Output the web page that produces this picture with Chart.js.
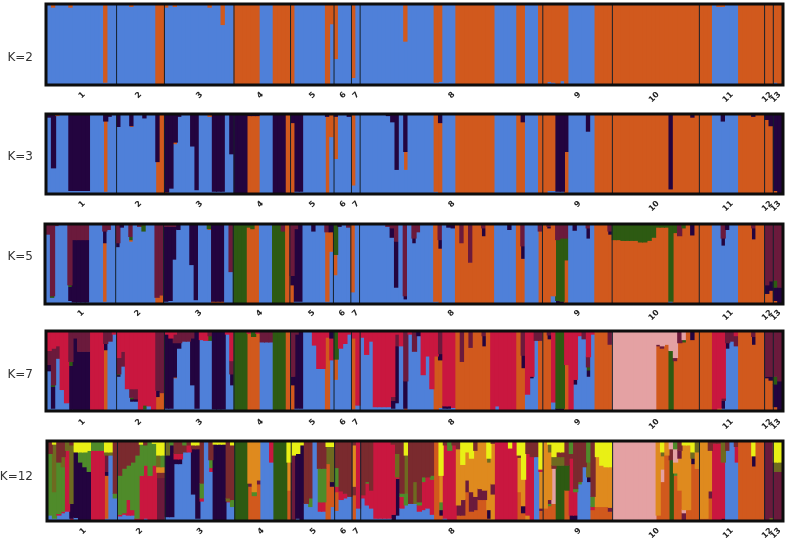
<!DOCTYPE html>
<html>
<head>
<meta charset="utf-8">
<title>STRUCTURE plots</title>
<script src="https://cdn.jsdelivr.net/npm/chart.js@4/dist/chart.umd.min.js"></script>
<style>
  html, body { margin: 0; padding: 0; background: #fff; }
  canvas { position: absolute; left: 0; }
</style>
</head>
<body>
<script>
// Cluster colours
const B = '#4f80d9', O = '#d1591d', D = '#23043f', M = '#6b1a3c', G = '#2d5a12', R = '#c9173f';
const P = '#e4a1a3', Y = '#e9f015', L = '#4f8b2a', A = '#df8a1e', W = '#7a2a2e', E = '#6e6a20';

// Populations: label, column where it starts, column where the label sits
const popLabels = ['1', '2', '3', '4', '5', '6', '7', '8', '9', '10', '11', '12', '13'];
const popStarts = [0, 16, 27, 43, 56, 66, 70, 72, 114, 130, 150, 165, 167];
const popLabelCols = [8, 21, 35, 49, 61, 68, 71, 93, 122, 140, 157, 166, 168];

// Each run: [number of individuals, colour, upper share ends at %, colour, ends at %, ...] from the top down
const k2Runs = [
  [1, B, 100], [1, O, 3, B, 100], [3, B, 100], [1, O, 3, B, 100], [7, B, 100], [1, O, 98, B, 100], [2, B, 100],
  [3, B, 100], [1, O, 2, B, 100], [5, B, 100], [2, O, 100],
  [1, O, 3, B, 100], [1, B, 100], [1, O, 2, B, 100], [7, B, 100], [1, O, 3, B, 100], [2, B, 100], [1, O, 25, B, 100], [2, B, 100],
  [6, O, 100], [3, B, 100], [4, O, 100],
  [1, O, 100], [7, B, 100], [1, O, 100], [1, O, 24, B, 100],
  [1, O, 68, B, 100], [3, B, 100],
  [1, O, 92, B, 100], [1, B, 100],
  [10, B, 100], [1, O, 46, B, 100], [6, B, 100], [1, O, 98, B, 100], [1, O, 97, B, 100], [3, B, 100], [9, O, 100], [5, B, 100], [2, O, 100], [3, B, 100], [1, O, 100],
  [1, O, 100], [1, O, 97, B, 100], [1, O, 98, B, 100], [1, O, 100], [1, O, 96, B, 100], [1, O, 100], [6, B, 100], [4, O, 100],
  [20, O, 100],
  [3, O, 100], [1, B, 100], [2, O, 2, B, 100], [3, B, 100], [6, O, 100],
  [2, O, 100],
  [1, O, 98, B, 100], [1, O, 100]
];

const k3Runs = [
  [1, D, 3, B, 100], [1, D, 68, B, 100], [1, O, 1, B, 100], [2, B, 100], [5, D, 97, B, 100], [3, B, 100], [1, D, 8, O, 98, B, 100], [1, D, 2, B, 100], [1, B, 100],
  [1, D, 15, B, 100], [2, B, 100], [1, D, 14, O, 15, B, 100], [2, B, 100], [1, D, 4, B, 100], [2, B, 100], [1, D, 60, O, 100], [1, O, 100],
  [1, D, 99, O, 100], [1, D, 94, B, 100], [1, D, 35, O, 37, B, 100], [1, D, 2, B, 100], [2, B, 100], [1, D, 40, B, 100], [1, D, 96, B, 100], [2, B, 100], [1, O, 2, B, 100], [3, D, 98, B, 100], [1, B, 100], [1, D, 50, B, 100],
  [3, D, 100], [3, D, 1, O, 100], [3, B, 100], [3, D, 100], [1, O, 100],
  [1, D, 10, O, 100], [2, D, 98, B, 100], [5, B, 100], [1, D, 2, O, 100], [1, O, 28, B, 100],
  [1, D, 2, O, 56, B, 100], [2, B, 100], [1, D, 2, B, 100],
  [1, O, 90, B, 100], [1, B, 100],
  [6, B, 100], [1, D, 1, B, 100], [1, D, 9, B, 100], [1, D, 70, B, 100], [1, B, 100], [1, D, 47, O, 70, B, 100], [6, B, 100], [1, O, 98, B, 100], [1, D, 10, O, 100], [3, B, 100], [9, O, 100], [5, B, 100], [1, O, 100], [1, D, 9, O, 100], [3, B, 100], [1, O, 100],
  [1, O, 100], [2, O, 97, B, 100], [2, D, 98, B, 100], [1, D, 47, O, 100], [4, B, 100], [1, D, 21, B, 100], [1, B, 100], [4, O, 100],
  [13, O, 100], [1, D, 95, O, 100], [4, O, 100], [1, D, 3, O, 100], [1, O, 100],
  [3, O, 100], [2, B, 100], [1, D, 8, B, 100], [3, B, 100], [3, O, 100], [1, D, 2, O, 100], [2, O, 100],
  [1, D, 6, O, 100], [1, D, 14, O, 100],
  [1, D, 97, O, 100], [1, D, 100]
];

const k5Runs = [
  [1, M, 12, B, 100], [1, M, 91, G, 93, B, 100], [1, M, 1, B, 100], [2, B, 100], [1, M, 77, G, 79, D, 97, B, 100], [4, M, 19, D, 99, B, 100], [3, B, 100], [1, M, 8, D, 23, O, 98, B, 100], [1, M, 6, B, 100], [1, B, 100],
  [1, M, 23, D, 28, B, 100], [1, D, 3, B, 100], [1, B, 100], [1, M, 15, G, 19, O, 21, B, 100], [1, B, 100], [1, M, 2, B, 100], [1, G, 8, B, 100], [2, B, 100], [1, M, 93, O, 100], [1, M, 90, O, 100],
  [1, M, 2, D, 98, B, 100], [1, M, 2, D, 97, B, 100], [1, M, 2, D, 44, B, 100], [1, D, 6, B, 100], [2, B, 100], [1, D, 51, B, 100], [1, D, 96, B, 100], [2, B, 100], [1, G, 5, O, 6, B, 100], [3, D, 98, O, 100], [1, B, 100], [1, M, 60, B, 100],
  [3, G, 100], [1, G, 3, O, 100], [1, G, 5, O, 100], [1, O, 100], [3, B, 100], [2, G, 100], [1, M, 8, G, 100], [1, O, 100],
  [1, M, 65, D, 77, O, 100], [1, M, 5, D, 98, B, 100], [1, D, 98, B, 100], [2, B, 100], [1, D, 8, B, 100], [2, B, 100], [1, M, 9, O, 98, B, 100], [1, D, 9, O, 34, B, 100],
  [1, G, 38, O, 64, B, 100], [1, D, 2, B, 100], [1, B, 100], [1, M, 3, B, 100],
  [1, O, 86, B, 100], [1, B, 100],
  [6, B, 100], [1, M, 2, B, 100], [1, M, 4, D, 16, B, 100], [1, M, 21, D, 80, B, 100], [1, B, 100], [1, M, 91, D, 95, B, 100], [1, B, 100], [1, M, 17, D, 23, B, 100], [1, M, 9, B, 100], [3, B, 100], [1, O, 98, B, 100], [1, M, 19, D, 30, O, 100], [1, B, 100], [1, D, 3, B, 100], [1, D, 4, B, 100], [1, O, 100], [1, M, 23, O, 100], [1, O, 100], [1, M, 48, O, 100], [2, O, 100], [1, M, 4, D, 14, O, 100], [2, O, 100], [3, B, 100], [1, D, 6, B, 100], [1, B, 100], [1, O, 100], [1, M, 27, D, 43, O, 100], [3, B, 100], [1, M, 8, O, 100],
  [1, O, 100], [1, M, 2, D, 4, O, 100], [1, O, 91, B, 100], [1, M, 19, G, 97, D, 100], [1, M, 17, G, 98, D, 100], [1, M, 17, G, 45, O, 100], [1, B, 100], [1, D, 7, B, 100], [2, B, 100], [1, M, 4, D, 17, B, 100], [1, B, 100], [3, O, 100], [1, M, 8, D, 12, O, 100],
  [2, G, 19, O, 100], [4, G, 20, O, 100], [2, G, 22, O, 100], [1, G, 20, O, 100], [1, G, 16, O, 100], [3, G, 3, O, 100], [1, G, 98, B, 100], [1, G, 10, O, 100], [1, M, 14, O, 100], [1, G, 4, O, 100], [1, O, 100], [1, D, 13, O, 100], [1, O, 100],
  [3, O, 100], [2, B, 100], [1, M, 17, D, 26, B, 100], [1, D, 6, B, 100], [2, B, 100], [3, O, 100], [1, M, 4, D, 18, O, 100], [2, O, 100],
  [1, M, 77, D, 88, O, 100], [1, M, 72, D, 84, O, 100],
  [1, M, 71, G, 80, D, 97, O, 100], [1, M, 80, D, 100]
];

const k7Runs = [
  [1, R, 24, M, 42, D, 50, B, 100], [1, R, 21, M, 68, G, 70, D, 98, B, 100], [1, R, 18, M, 34, B, 100], [1, R, 74, B, 100], [1, R, 91, B, 100], [1, M, 38, G, 43, D, 100], [1, M, 8, D, 100], [3, M, 25, D, 100], [3, R, 100], [1, M, 15, D, 23, O, 100], [1, M, 12, B, 100], [1, R, 3, B, 100],
  [1, R, 33, M, 54, G, 55, D, 57, B, 100], [1, R, 25, M, 44, B, 100], [1, R, 73, B, 100], [1, R, 73, M, 84, G, 86, D, 89, B, 100], [1, R, 73, M, 86, D, 89, B, 100], [1, R, 100], [1, R, 94, G, 99, B, 100], [1, R, 95, B, 100], [1, R, 100], [1, M, 75, D, 83, O, 100], [1, M, 78, O, 100],
  [1, R, 3, D, 98, B, 100], [1, R, 8, D, 98, B, 100], [1, R, 3, M, 14, D, 58, O, 59, B, 100], [1, M, 14, D, 21, B, 100], [2, M, 12, B, 100], [1, M, 8, D, 68, B, 100], [1, D, 98, B, 100], [1, R, 10, B, 100], [1, R, 11, B, 100], [1, M, 5, G, 11, B, 100], [3, D, 99, B, 100], [1, R, 3, B, 100], [1, R, 37, M, 54, D, 68, B, 100],
  [3, G, 100], [1, R, 2, O, 100], [1, G, 6, O, 100], [1, R, 2, O, 100], [3, M, 13, B, 100], [3, G, 100], [1, O, 100],
  [1, M, 57, D, 68, O, 100], [1, M, 3, D, 98, B, 100], [1, D, 98, B, 100], [2, B, 100], [1, R, 17, B, 100], [2, R, 47, B, 100], [1, R, 7, O, 100], [1, D, 8, R, 36, B, 100],
  [1, G, 35, O, 61, B, 100], [1, R, 21, B, 100], [1, R, 15, B, 100], [1, R, 3, B, 100],
  [1, R, 8, O, 99, B, 100], [1, R, 94, B, 100],
  [1, R, 7, B, 100], [1, R, 29, B, 100], [1, R, 12, B, 100], [4, R, 96, B, 100], [1, R, 83, M, 88, D, 98, B, 100], [1, R, 3, M, 18, D, 91, B, 100], [1, R, 18, B, 100], [1, M, 63, D, 98, O, 100], [1, R, 3, B, 100], [1, M, 25, B, 100], [1, D, 5, B, 100], [1, R, 55, B, 100], [1, R, 31, B, 100], [1, R, 73, B, 100], [1, R, 31, O, 100], [1, M, 28, D, 36, O, 97, B, 100], [2, R, 95, D, 98, B, 100], [1, R, 97, B, 100], [1, O, 100], [1, M, 38, O, 100], [1, O, 100], [1, M, 20, O, 100], [2, O, 100], [1, M, 5, D, 18, O, 100], [1, O, 100], [1, R, 100], [1, R, 95, B, 100], [4, R, 100], [1, O, 100], [1, M, 30, D, 46, O, 100], [1, R, 80, B, 100], [1, R, 57, D, 59, B, 100], [1, M, 11, B, 100], [1, M, 11, O, 100],
  [1, O, 100], [1, M, 4, D, 9, O, 100], [1, R, 90, B, 100], [2, G, 98, D, 100], [1, R, 42, O, 100], [1, R, 100], [1, R, 61, D, 67, B, 100], [1, R, 5, B, 100], [1, M, 9, B, 100], [1, R, 32, M, 45, G, 49, D, 57, B, 100], [1, R, 3, B, 100], [3, O, 100], [1, M, 16, O, 100],
  [10, P, 100], [1, P, 16, M, 18, O, 100], [1, P, 18, M, 21, O, 100], [1, P, 16, O, 100], [1, P, 24, G, 100], [1, P, 33, M, 37, O, 100], [1, M, 14, O, 100], [1, P, 10, G, 13, O, 100], [1, O, 100], [1, D, 10, O, 100], [1, O, 100],
  [3, O, 100], [1, R, 100], [1, R, 98, A, 100], [1, R, 85, M, 88, D, 98, B, 100], [1, M, 14, D, 21, B, 100], [1, M, 12, B, 100], [1, R, 5, M, 18, B, 100], [3, O, 100], [1, M, 6, D, 16, O, 100], [2, O, 100],
  [1, M, 57, D, 59, O, 100], [1, M, 57, D, 62, O, 100],
  [1, M, 57, G, 67, D, 96, O, 100], [1, M, 63, D, 100]
];

const k12Runs = [
  [1, W, 15, L, 94, B, 100], [1, Y, 3, E, 64, L, 98, B, 100], [1, W, 26, L, 92, R, 94, B, 100], [1, W, 19, E, 32, L, 89, R, 91, B, 100], [1, E, 11, R, 89, B, 100], [1, W, 4, E, 79, D, 98, R, 100], [1, Y, 13, D, 97, B, 100], [1, Y, 13, L, 26, D, 100], [1, Y, 13, L, 32, D, 100], [1, Y, 11, L, 38, D, 100], [1, L, 11, R, 100], [2, L, 11, R, 100], [1, Y, 13, E, 17, M, 38, D, 43, O, 98, B, 100], [1, Y, 13, E, 17, B, 100], [1, W, 66, L, 72, B, 100],
  [1, W, 43, L, 93, R, 95, B, 100], [1, W, 34, L, 91, R, 93, B, 100], [1, W, 30, L, 74, R, 94, B, 100], [1, W, 26, L, 87, R, 94, B, 100], [1, W, 17, L, 98, R, 100], [1, Y, 3, L, 43, R, 100], [1, W, 4, L, 30, R, 98, B, 100], [1, L, 43, R, 100], [1, Y, 2, L, 30, R, 100], [1, Y, 17, E, 32, A, 39, W, 46, M, 100], [1, Y, 17, L, 32, A, 39, W, 46, M, 100],
  [1, E, 17, D, 96, B, 100], [1, L, 4, D, 96, B, 100], [1, W, 15, R, 22, D, 28, B, 100], [1, W, 15, R, 22, D, 28, B, 100], [1, L, 4, W, 13, B, 100], [1, W, 4, R, 13, B, 100], [1, Y, 4, W, 9, D, 67, B, 100], [1, Y, 4, W, 9, D, 98, B, 100], [1, W, 53, L, 72, R, 76, B, 100], [1, B, 100], [1, W, 23, L, 33, R, 38, B, 100], [3, Y, 3, D, 100], [1, W, 72, E, 76, R, 77, B, 100], [1, Y, 4, W, 74, L, 83, B, 100],
  [3, G, 100], [1, A, 53, M, 57, O, 100], [1, A, 64, L, 69, O, 100], [1, A, 49, M, 54, O, 100], [2, B, 100], [1, R, 26, B, 100], [3, G, 100], [1, Y, 26, A, 62, O, 100],
  [1, Y, 17, M, 100], [1, Y, 15, D, 98, B, 100], [1, Y, 4, D, 100], [1, W, 79, B, 100], [1, W, 72, L, 83, B, 100], [1, B, 100], [1, W, 34, L, 77, R, 89, B, 100], [1, W, 34, L, 77, R, 89, B, 100], [1, Y, 6, E, 28, O, 100], [1, Y, 6, E, 51, D, 57, O, 83, B, 100],
  [1, W, 33, L, 57, R, 64, O, 88, B, 100], [1, W, 63, R, 74, B, 100], [1, W, 66, R, 72, B, 100], [1, W, 70, B, 100],
  [1, W, 4, A, 57, W, 68, O, 100], [1, R, 85, B, 100],
  [1, W, 68, R, 72, B, 100], [1, W, 51, L, 53, R, 81, B, 100], [1, W, 62, R, 85, B, 100], [4, R, 98, B, 100], [1, W, 3, R, 93, D, 100], [1, W, 15, E, 45, R, 47, D, 94, B, 100], [1, W, 66, L, 70, R, 85, B, 100], [1, Y, 17, E, 66, L, 81, B, 100], [1, W, 79, B, 100], [1, W, 51, E, 79, B, 100], [1, W, 77, L, 81, R, 89, B, 100], [1, W, 45, L, 51, R, 87, B, 100], [1, W, 45, R, 85, B, 100], [1, W, 43, L, 48, R, 93, B, 100], [1, O, 100], [1, Y, 43, A, 77, L, 87, D, 94, O, 100], [1, W, 4, R, 98, B, 100], [1, L, 11, R, 100], [1, W, 4, R, 100], [1, W, 9, A, 81, M, 94, O, 100], [1, Y, 29, A, 74, M, 94, O, 100], [1, Y, 13, A, 49, M, 64, O, 100], [1, Y, 21, A, 64, M, 89, O, 100], [1, W, 11, A, 70, M, 87, O, 100], [1, A, 60, M, 74, O, 100], [1, A, 62, M, 74, O, 100], [1, Y, 21, E, 26, A, 87, D, 98, O, 100], [1, W, 2, A, 54, M, 67, A, 100], [3, R, 100], [1, Y, 8, R, 100], [1, R, 100], [1, Y, 17, W, 20, A, 64, O, 100], [1, Y, 48, A, 82, D, 91, O, 100], [1, W, 15, R, 94, A, 100], [1, W, 19, R, 100], [1, W, 19, B, 100], [1, Y, 35, R, 38, A, 85, M, 88, O, 100],
  [1, A, 85, O, 100], [1, Y, 3, E, 13, A, 74, M, 79, L, 82, O, 100], [1, Y, 19, E, 30, W, 34, P, 79, O, 100], [2, Y, 13, W, 19, E, 30, G, 100], [1, W, 30, G, 62, O, 100], [1, L, 15, W, 21, R, 94, D, 100], [1, W, 60, L, 64, R, 94, D, 100], [1, W, 51, L, 54, B, 100], [1, W, 32, B, 100], [1, L, 26, E, 45, D, 51, B, 100], [1, W, 70, L, 83, R, 87, O, 100], [1, Y, 19, A, 83, O, 100], [1, Y, 30, A, 83, O, 100], [1, Y, 32, A, 83, O, 100], [1, Y, 32, A, 84, M, 89, O, 100],
  [10, P, 100], [1, A, 94, O, 100], [1, Y, 13, E, 18, A, 35, P, 51, O, 100], [1, A, 17, O, 100], [1, P, 9, W, 23, G, 100], [1, L, 9, P, 26, A, 40, L, 43, O, 100], [1, W, 11, M, 21, A, 62, O, 100], [1, Y, 4, A, 87, P, 91, M, 100], [1, Y, 4, A, 87, O, 100], [1, Y, 13, E, 21, D, 28, O, 100], [1, E, 13, A, 34, O, 100],
  [2, A, 98, O, 100], [1, W, 11, A, 63, M, 72, O, 100], [2, W, 2, R, 100], [1, E, 26, R, 98, D, 100], [1, W, 11, B, 100], [1, B, 100], [1, W, 6, R, 26, B, 100], [3, O, 100], [1, Y, 18, D, 31, O, 100], [2, O, 100],
  [1, M, 100], [1, M, 97, E, 100],
  [2, Y, 26, E, 38, M, 100]
];

const panels = [
  { name: 'K=2', runs: k2Runs, top: 0, left: 47, plotTop: 5, plotBottom: 84, labelY: 58, labelGap: -2 },
  { name: 'K=3', runs: k3Runs, top: 106, left: 47, plotTop: 115, plotBottom: 193, labelY: 157, labelGap: -2 },
  { name: 'K=5', runs: k5Runs, top: 216, left: 46, plotTop: 225, plotBottom: 303, labelY: 257, labelGap: -3 },
  { name: 'K=7', runs: k7Runs, top: 324, left: 47, plotTop: 332, plotBottom: 410, labelY: 375, labelGap: -1 },
  { name: 'K=12', runs: k12Runs, top: 432, left: 48, plotTop: 442, plotBottom: 520, labelY: 477, labelGap: -2 }
];

function expandRuns(runs) {
  const columns = [];
  runs.forEach(run => {
    for (let i = 0; i < run[0]; i++) {
      columns.push(run.slice(1));
    }
  });
  return columns;
}

// Column segments become stacked layers, first layer on top because the y axis is reversed
function buildDatasets(columns) {
  const layerCount = Math.max(...columns.map(c => c.length / 2));
  const datasets = [];
  for (let layer = 0; layer < layerCount; layer++) {
    datasets.push({
      data: columns.map(c => {
        if (layer * 2 >= c.length) return 0;
        const start = layer === 0 ? 0 : c[layer * 2 - 1];
        return c[layer * 2 + 1] - start;
      }),
      backgroundColor: columns.map(c => c[layer * 2] || B),
      borderWidth: 0,
      barThickness: 4.6,
      stack: 'q'
    });
  }
  return datasets;
}

// Frame, population separators and the K= text
const framePlugin = {
  id: 'framePlugin',
  afterDatasetsDraw(chart, args, opts) {
    const ctx = chart.ctx;
    const area = chart.chartArea;
    const xScale = chart.scales.x;
    ctx.save();
    ctx.strokeStyle = '#16202c';
    ctx.lineWidth = 1;
    popStarts.slice(1).forEach(col => {
      const x = xScale.getPixelForValue(col - 0.5);
      ctx.beginPath();
      ctx.moveTo(x, area.top);
      ctx.lineTo(x, area.bottom);
      ctx.stroke();
    });
    ctx.strokeStyle = '#0d0d0d';
    ctx.lineWidth = 3;
    ctx.strokeRect(area.left - 1, area.top - 1, area.width + 2, area.height + 2);
    ctx.fillStyle = '#333';
    ctx.font = '12px "DejaVu Sans"';
    ctx.textAlign = 'right';
    ctx.textBaseline = 'middle';
    ctx.fillText(opts.name, 33, opts.labelY);
    ctx.restore();
  }
};

panels.forEach(panel => {
  const columns = expandRuns(panel.runs);
  if (columns.length !== 169) throw new Error(panel.name + ' has ' + columns.length + ' columns');

  const canvas = document.createElement('canvas');
  canvas.width = 787;
  canvas.height = panel.plotBottom - panel.top + 24;
  canvas.style.top = panel.top + 'px';
  document.body.appendChild(canvas);

  new Chart(canvas, {
    type: 'bar',
    data: {
      labels: columns.map((c, i) => i),
      datasets: buildDatasets(columns)
    },
    plugins: [framePlugin],
    options: {
      responsive: false,
      animation: false,
      layout: { padding: { left: panel.left, right: 5, top: panel.plotTop - panel.top, bottom: 0 } },
      plugins: {
        legend: { display: false },
        tooltip: { enabled: false },
        framePlugin: { name: panel.name, labelY: panel.labelY - panel.top }
      },
      scales: {
        x: {
          stacked: true,
          grid: { display: false },
          border: { display: false },
          afterFit(scale) { scale.height = 24; },
          ticks: {
            autoSkip: false,
            minRotation: 45,
            maxRotation: 45,
            padding: panel.labelGap,
            color: '#222',
            font: { family: '"DejaVu Sans"', size: 8, weight: 'bold' },
            callback(value, index) {
              const at = popLabelCols.indexOf(index);
              return at >= 0 ? popLabels[at] : null;
            }
          }
        },
        y: {
          stacked: true,
          display: false,
          reverse: true,
          min: 0,
          max: 100
        }
      }
    }
  });
});
</script>
</body>
</html>
